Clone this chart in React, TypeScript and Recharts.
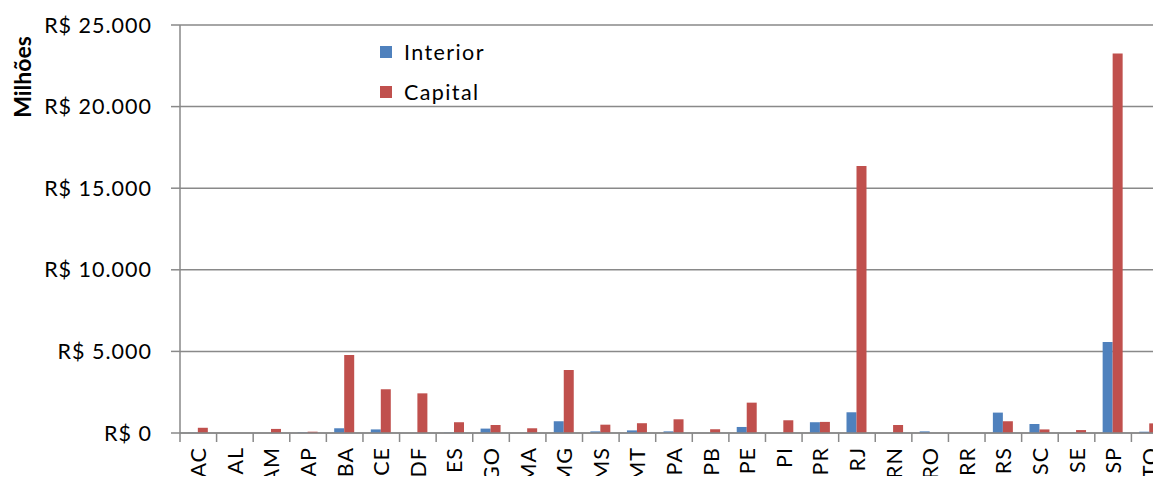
import { Bar, BarChart, CartesianGrid, Legend, XAxis, YAxis } from "recharts";

const categories = [
  "AC", "AL", "AM", "AP", "BA", "CE", "DF", "ES", "GO", "MA", "MG", "MS", "MT", "PA",
  "PB", "PE", "PI", "PR", "RJ", "RN", "RO", "RR", "RS", "SC", "SE", "SP", "TO",
];
const interior = [
  10, 0, 0, 30, 290, 220, 0, 20, 270, 0, 720, 100, 160, 100,
  0, 370, 0, 660, 1270, 0, 100, 0, 1250, 550, 0, 5580, 80,
];
const capital = [
  320, 0, 250, 80, 4780, 2680, 2430, 660, 490, 290, 3860, 510, 600, 840,
  230, 1860, 780, 680, 16360, 490, 0, 0, 720, 220, 180, 23260, 590,
];
const yTicks = [0, 5000, 10000, 15000, 20000, 25000];

const data = categories.map((uf, i) => ({ uf, Interior: interior[i], Capital: capital[i] }));

const BLUE = "#4F81BD";
const RED = "#C0504D";
const GRID = "#898989";
const FONT = "Lato, 'Open Sans', sans-serif";

const PLOT_LEFT = 180;
const PLOT_RIGHT = 1168;
const BAND = (PLOT_RIGHT - PLOT_LEFT) / categories.length;

const formatBRL = (v: number) => "R$ " + v.toLocaleString("pt-BR");

const XTick = ({ x, y, payload }: any) => {
  const left = x - BAND / 2;
  return (
    <g>
      <line x1={left} y1={y} x2={left} y2={y + 9} stroke={GRID} strokeWidth={1.5} />
      <text
        x={x}
        y={y + 14}
        transform={`rotate(-90, ${x}, ${y + 14})`}
        textAnchor="end"
        dominantBaseline="central"
        fill="#000"
        fontSize={21.5}
        letterSpacing={1}
        fontFamily={FONT}
      >
        {payload.value}
      </text>
    </g>
  );
};

const LegendBox = () => (
  <div style={{ fontFamily: FONT, fontSize: 21.5, letterSpacing: 1.4, color: "#000" }}>
    {[
      { name: "Interior", color: BLUE },
      { name: "Capital", color: RED },
    ].map((item) => (
      <div key={item.name} style={{ display: "flex", alignItems: "center", height: 40 }}>
        <span style={{ width: 12, height: 12, background: item.color, marginRight: 12 }} />
        {item.name}
      </div>
    ))}
  </div>
);

const YLabel = ({ viewBox }: any) => (
  <text
    x={22}
    y={viewBox.y + 52}
    transform={`rotate(-90, 22, ${viewBox.y + 52})`}
    textAnchor="middle"
    dominantBaseline="central"
    fontSize={23}
    fontWeight="bold"
    fontFamily={FONT}
    fill="#000"
  >
    Milhões
  </text>
);

export default function App() {
  return (
    <div style={{ margin: -8, width: 1161, height: 484, overflow: "hidden", background: "#fff" }}>
      <BarChart
        width={1180}
        height={484}
        data={data}
        margin={{ top: 25, right: 12, bottom: 0, left: 0 }}
        barCategoryGap="21.4%"
        barGap={0}
      >
        <CartesianGrid vertical={false} stroke={GRID} strokeWidth={1.5} />
        <XAxis
          dataKey="uf"
          height={51}
          interval={0}
          tickLine={false}
          tickSize={0}
          tickMargin={0}
          axisLine={{ stroke: GRID, strokeWidth: 1.5 }}
          tick={<XTick />}
        />
        <YAxis
          width={180}
          domain={[0, 25000]}
          ticks={yTicks}
          tickFormatter={formatBRL}
          tickSize={9}
          tickMargin={19}
          axisLine={{ stroke: GRID, strokeWidth: 1.5 }}
          tickLine={{ stroke: GRID, strokeWidth: 1.5 }}
          tick={{ fill: "#000", fontSize: 21.5, fontFamily: FONT, letterSpacing: 1 }}
          label={<YLabel />}
        />
        <Legend
          layout="vertical"
          verticalAlign="middle"
          align="center"
          content={<LegendBox />}
          wrapperStyle={{ top: 32, left: 380, width: 160 }}
        />
        <Bar dataKey="Interior" fill={BLUE} isAnimationActive={false} />
        <Bar dataKey="Capital" fill={RED} isAnimationActive={false} />
      </BarChart>
    </div>
  );
}
